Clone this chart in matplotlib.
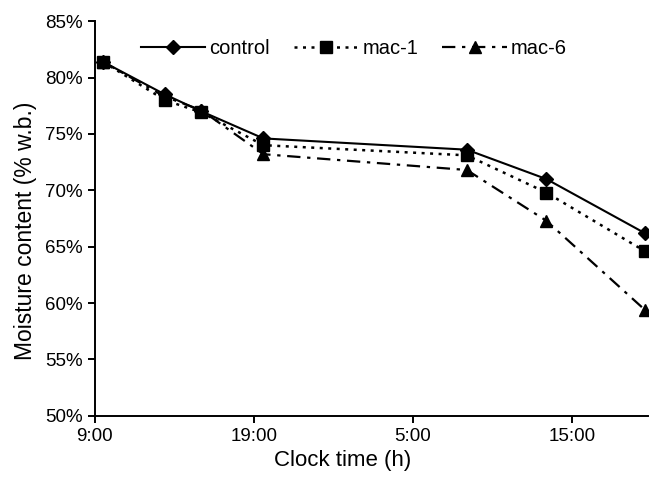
import matplotlib
matplotlib.use("Agg")
import matplotlib.pyplot as plt
from matplotlib.ticker import FuncFormatter

plt.rcParams["font.family"] = ["Liberation Sans", "DejaVu Sans"]

# hours after 9:00
hours = [0.5, 4.4, 6.7, 10.6, 23.4, 28.4, 34.6]
control = [81.4, 78.5, 77.0, 74.6, 73.6, 71.0, 66.2]
mac1 = [81.4, 78.0, 76.9, 74.0, 73.1, 69.8, 64.6]
mac6 = [81.4, 78.3, 77.1, 73.2, 71.8, 67.3, 59.4]

tick_hours = [0, 10, 20, 30]
tick_labels = ["9:00", "19:00", "5:00", "15:00"]

fig = plt.figure(figsize=(6.5, 4.91), dpi=100)
ax = fig.add_axes([0.146, 0.153, 0.851, 0.804])

ax.plot(hours, control, color="black", lw=1.5, ls="-", marker="D",
        ms=7.5, label="control")
ax.plot(hours, mac1, color="black", lw=1.8, ls=(0, (1.2, 2.2)), marker="s",
        ms=9, label="mac-1")
ax.plot(hours, mac6, color="black", lw=1.6, ls=(0, (6, 3, 1.5, 3)), marker="^",
        ms=9, label="mac-6")

ax.set_xlim(0, 34.8)
ax.set_ylim(50, 85)
ax.set_xticks(tick_hours)
ax.set_xticklabels(tick_labels)
ax.set_yticks(range(50, 86, 5))
ax.yaxis.set_major_formatter(FuncFormatter(lambda v, p: f"{v:.0f}%"))

for s in ["top", "right"]:
    ax.spines[s].set_visible(False)
ax.spines["left"].set_linewidth(1.4)
ax.spines["bottom"].set_linewidth(1.4)
ax.tick_params(direction="out", length=5, width=1.4, labelsize=13.5)
ax.tick_params(axis="x", pad=4)

ax.set_xlabel("Clock time (h)", fontsize=16, labelpad=3, x=0.447)
ax.set_ylabel("Moisture content (% w.b.)", fontsize=16.5, labelpad=6, y=0.47)

ax.legend(loc="upper left", bbox_to_anchor=(0.05, 1.0), ncol=3, frameon=False,
          fontsize=14.5, handlelength=3.2, columnspacing=1.2, handletextpad=0.2)

fig.savefig("out.png", dpi=100)
